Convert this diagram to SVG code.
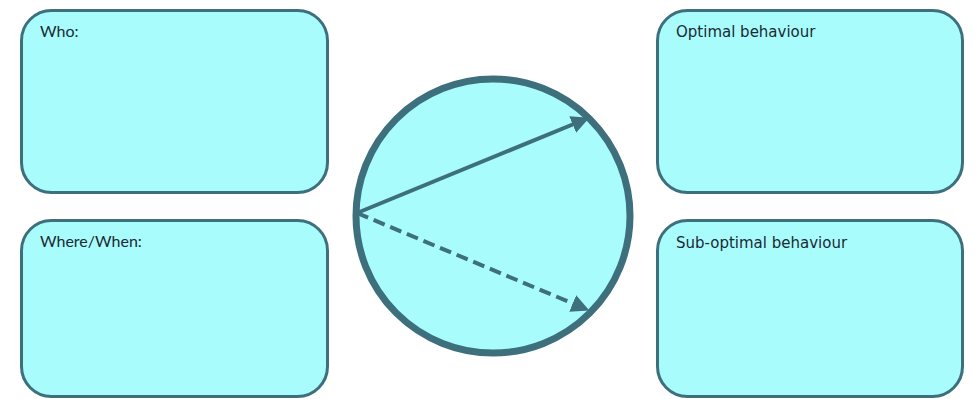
<svg xmlns="http://www.w3.org/2000/svg" width="975" height="399" viewBox="0 0 975 399">
<style>
.box{fill:#a9fcfc;stroke:#3d6f7d;stroke-width:3}
.lbl{font-family:"Lato","Liberation Sans",sans-serif;font-size:16px;fill:#1b2a33}
.lbr{font-family:"DejaVu Sans","Liberation Sans",sans-serif;font-size:15px;fill:#1b2a33}
.conn{stroke:#3d6f7d;stroke-width:4;fill:none}
</style>
<defs>
<marker id="ah" viewBox="0 0 10 10" refX="8" refY="5" markerWidth="4.5" markerHeight="4.5" orient="auto" markerUnits="strokeWidth">
<path d="M0,0 L10,5 L0,10 Z" fill="#3d6f7d"/>
</marker>
</defs>
<rect width="975" height="399" fill="#ffffff"/>
<g id="who">
<rect class="box" x="21.5" y="10.5" width="306" height="182" rx="30"/>
<text class="lbl" x="40" y="37">Who:</text>
</g>
<g id="where-when">
<rect class="box" x="21.5" y="220.5" width="306" height="176" rx="30"/>
<text class="lbl" x="40" y="247">Where/When:</text>
</g>
<g id="optimal">
<rect class="box" x="657.5" y="10.5" width="305" height="182" rx="30"/>
<text class="lbr" x="676" y="37">Optimal behaviour</text>
</g>
<g id="sub-optimal">
<rect class="box" x="657.5" y="220.5" width="305" height="176" rx="30"/>
<text class="lbr" x="676" y="248">Sub-optimal behaviour</text>
</g>
<g id="circle">
<circle cx="493" cy="216" r="137" fill="#a9fcfc" stroke="#3d6f7d" stroke-width="7"/>
</g>
<g id="connectors">
<line class="conn" x1="357" y1="213" x2="586" y2="119" marker-end="url(#ah)"/>
<line class="conn" x1="357" y1="213" x2="586" y2="309" stroke-dasharray="12,6" marker-end="url(#ah)"/>
</g>
</svg>
